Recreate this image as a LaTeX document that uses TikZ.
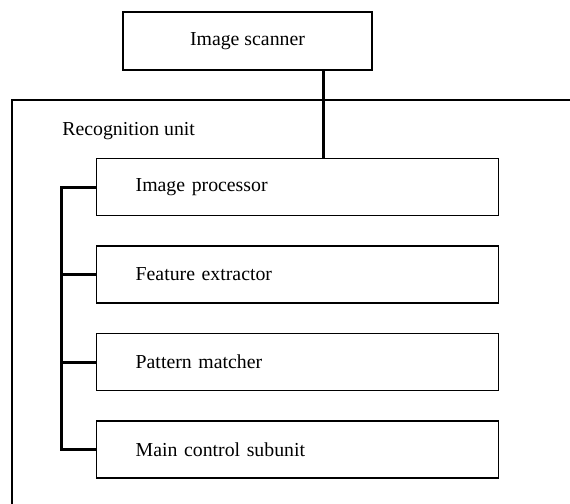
\documentclass[tikz,border=0pt]{standalone}
\usepackage{fontspec}
\setmainfont{Liberation Serif}
\usepackage{tikz}
\usetikzlibrary{positioning}

\begin{document}
\begin{tikzpicture}[x=0.5pt,y=-0.5pt,font=\fontsize{9.9}{12}\selectfont,node distance=14.5pt,
    unitbox/.style={draw,line width=0.7pt,minimum height=28.5pt,inner xsep=19.5pt,text width=162pt,align=left},
    bus/.style={line width=1.5pt}]
    \clip (0,0) rectangle (570,504);
    \draw[line width=0.7pt] (12,600) -- (12,100) -- (620,100);
    \node[draw,line width=0.7pt,minimum width=124.5pt,minimum height=29pt] (scanner) at (247.5,41) {Image scanner};
    \node[anchor=west,inner sep=0pt] (runit) at (62,131) {Recognition unit};
    \node[unitbox,anchor=north west] (ipr) at (96,158) {Image processor};
    \node[unitbox,below=of ipr] (fex) {Feature extractor};
    \node[unitbox,below=of fex] (pmt) {Pattern matcher};
    \node[unitbox,below=of pmt] (msu) {Main control subunit};
    \draw[bus] ([xshift=38.25pt]scanner.south) coordinate (tap) -- (tap |- ipr.north);
    \draw[bus] (ipr.west) -- ++(-17pt,0) coordinate (spine) |- (msu.west);
    \foreach \n in {fex,pmt}
      \draw[bus] (\n.west) -- (\n.west -| spine);
  \end{tikzpicture}
\end{document}
